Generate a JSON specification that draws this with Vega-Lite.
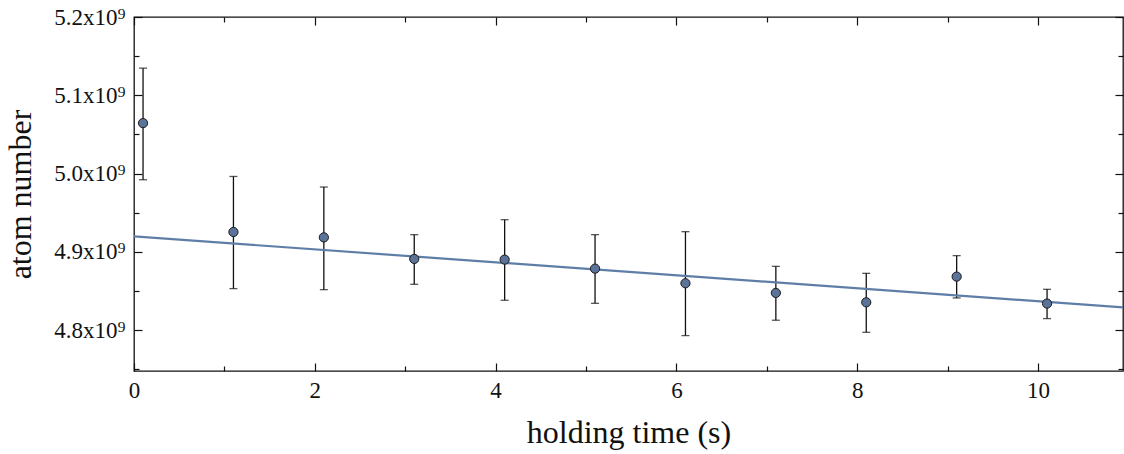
{
  "$schema": "https://vega.github.io/schema/vega-lite/v6.json",
  "width": 989,
  "height": 354,
  "autosize": "none",
  "padding": {"left": 134, "top": 17, "right": 1, "bottom": 83},
  "background": "white",
  "config": {
    "view": {"stroke": "#111111", "strokeWidth": 1.3},
    "axis": {
      "grid": false,
      "domain": false,
      "labelFont": "Liberation Serif",
      "titleFont": "Liberation Serif",
      "labelFontSize": 23,
      "titleFontSize": 32,
      "titleFontWeight": "normal",
      "labelColor": "#111111",
      "titleColor": "#111111",
      "tickColor": "#111111",
      "tickWidth": 1.2
    }
  },
  "datasets": {
    "pts": [
      {"t": 0.1, "n": 5.0645e9, "lo": 4.9922e9, "hi": 5.1347e9},
      {"t": 1.1, "n": 4.9255e9, "lo": 4.8532e9, "hi": 4.9964e9},
      {"t": 2.1, "n": 4.9186e9, "lo": 4.8519e9, "hi": 4.9829e9},
      {"t": 3.1, "n": 4.8911e9, "lo": 4.8587e9, "hi": 4.9221e9},
      {"t": 4.1, "n": 4.8902e9, "lo": 4.8383e9, "hi": 4.9412e9},
      {"t": 5.1, "n": 4.8787e9, "lo": 4.8344e9, "hi": 4.9221e9},
      {"t": 6.1, "n": 4.8600e9, "lo": 4.7932e9, "hi": 4.9259e9},
      {"t": 7.1, "n": 4.8477e9, "lo": 4.8128e9, "hi": 4.8816e9},
      {"t": 8.1, "n": 4.8357e9, "lo": 4.7974e9, "hi": 4.8727e9},
      {"t": 9.1, "n": 4.8685e9, "lo": 4.8413e9, "hi": 4.8953e9},
      {"t": 10.1, "n": 4.8341e9, "lo": 4.8149e9, "hi": 4.8523e9}
    ],
    "fit": [
      {"t": 0, "n": 4.9199e9},
      {"t": 10.94, "n": 4.8293e9}
    ]
  },
  "resolve": {"axis": {"x": "independent", "y": "independent"}},
  "layer": [
    {
      "data": {"name": "pts"},
      "mark": {"type": "rule", "color": "#111111", "strokeWidth": 1.3},
      "encoding": {
        "x": {"field": "t", "type": "quantitative",
          "scale": {"domain": [0, 10.94], "nice": false, "zero": false},
          "axis": {"orient": "bottom", "values": [0, 2, 4, 6, 8, 10], "tickSize": -8, "labelPadding": 16, "labelFont": "Liberation Serif", "labelFontSize": 23, "title": "holding time (s)", "titlePadding": 15, "labelFlush": false}},
        "y": {"field": "lo", "type": "quantitative",
          "scale": {"domain": [4.748e9, 5.2e9], "nice": false, "zero": false},
          "axis": {"orient": "left", "values": [4.8e9, 4.9e9, 5.0e9, 5.1e9, 5.2e9], "tickSize": -8, "labelPadding": 17, "labelFont": "Liberation Serif", "labelFontSize": 23,
            "labelExpr": "format(datum.value / 1e9, '.1f') + 'x10⁹'", "title": "atom number", "titlePadding": 16, "labelFlush": false}},
        "y2": {"field": "hi"}
      }
    },
    {
      "data": {"name": "pts"},
      "mark": {"type": "tick", "orient": "horizontal", "color": "#111111", "size": 8, "thickness": 1.3},
      "encoding": {
        "x": {"field": "t", "type": "quantitative",
          "axis": {"orient": "bottom", "values": [1, 3, 5, 7, 9], "tickSize": -5, "labels": false, "title": null}},
        "y": {"field": "lo", "type": "quantitative",
          "axis": {"orient": "left", "values": [4.75e9, 4.85e9, 4.95e9, 5.05e9, 5.15e9], "tickSize": -5, "labels": false, "title": null}}
      }
    },
    {
      "data": {"name": "pts"},
      "mark": {"type": "tick", "orient": "horizontal", "color": "#111111", "size": 8, "thickness": 1.3},
      "encoding": {
        "x": {"field": "t", "type": "quantitative",
          "axis": {"orient": "top", "values": [0, 2, 4, 6, 8, 10], "tickSize": -8, "labels": false, "title": null}},
        "y": {"field": "hi", "type": "quantitative",
          "axis": {"orient": "right", "values": [4.8e9, 4.9e9, 5.0e9, 5.1e9, 5.2e9], "tickSize": -8, "labels": false, "title": null}}
      }
    },
    {
      "data": {"name": "fit"},
      "mark": {"type": "line", "color": "#5e7ea8", "strokeWidth": 2.2, "clip": true},
      "encoding": {
        "x": {"field": "t", "type": "quantitative",
          "axis": {"orient": "top", "values": [1, 3, 5, 7, 9], "tickSize": -5, "labels": false, "title": null}},
        "y": {"field": "n", "type": "quantitative",
          "axis": {"orient": "right", "values": [4.75e9, 4.85e9, 4.95e9, 5.05e9, 5.15e9], "tickSize": -5, "labels": false, "title": null}}
      }
    },
    {
      "data": {"name": "pts"},
      "mark": {"type": "point", "filled": true, "shape": "circle", "size": 85, "color": "#5b7399", "stroke": "#1a1a1a", "strokeWidth": 1, "opacity": 1},
      "encoding": {
        "x": {"field": "t", "type": "quantitative", "axis": null},
        "y": {"field": "n", "type": "quantitative", "axis": null}
      }
    }
  ]
}
